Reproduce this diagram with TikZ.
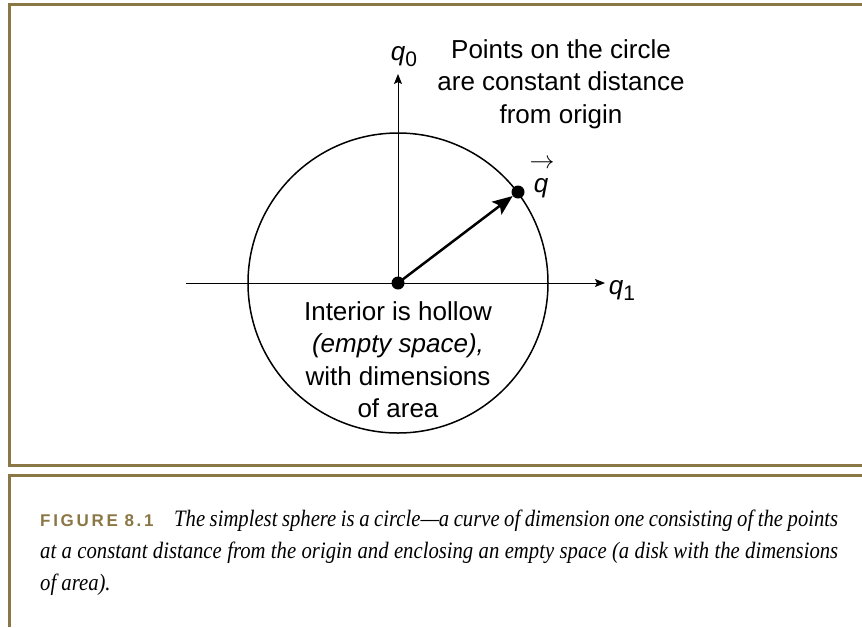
\documentclass[tikz,border=0pt]{standalone}
\usepackage{fontspec}
\setmainfont{Liberation Serif}
\setsansfont{Liberation Sans}
\newfontfamily\capfont{Liberation Serif}[FakeStretch=0.88]
\usetikzlibrary{arrows.meta}
\definecolor{frameol}{HTML}{8B7645}
\begin{document}
\begin{tikzpicture}[x=1pt,y=-1pt,
  frame/.style={draw=frameol,line width=3pt},
  axis/.style={line width=1pt,-{Stealth[length=10pt,width=8pt,inset=2pt]}},
  vecarrow/.style={line width=2.5pt,-{Stealth[length=20pt,width=16pt,inset=4pt]}},
  dot/.style={circle,fill=black,inner sep=0pt,minimum size=13pt},
  lbl/.style={font=\sffamily\fontsize{26}{32.5}\selectfont,align=center,inner sep=0pt},
  axlbl/.style={font=\sffamily\fontsize{26}{30}\selectfont,inner sep=0pt,anchor=base},
  captext/.style={font=\capfont\itshape\fontsize{23.5}{26}\selectfont,inner sep=0pt,anchor=base west}]
\useasboundingbox (0,0) rectangle (862,627);
% frames
\draw[frame] (862,4) -- (9.5,4) -- (9.5,465) -- (862,465);
\draw[frame] (862,475) -- (9.5,475) -- (9.5,627);
% circle and axes
\coordinate (O) at (398,283);
\draw[line width=1.5pt] (O) circle[radius=150];
\coordinate (xl) at (186,283);
\coordinate (xr) at (605,283);
\coordinate (yt) at (398,74);
\draw[line width=1pt] (xl) -- (O);
\draw[axis] (O) -- (xr);
\draw[axis] (O) -- (yt);
\node[dot] (o) at (O) {};
\node[dot] (q) at (518,192) {};
\draw[vecarrow] (o.center) -- (q);
% labels
\node[axlbl] (q0) at (404,60) {\textit{q}\raisebox{-6pt}{\fontsize{21}{21}\selectfont 0}};
\node[axlbl] (q1) at (622,294) {\textit{q}\raisebox{-6pt}{\fontsize{21}{21}\selectfont 1}};
\node[axlbl] (qv) at (541,192) {\textit{q}};
\node[inner sep=0pt,font=\fontsize{24}{24}\selectfont] (qarr) at (542,164) {$\rightarrow$};
\node[lbl,anchor=north] (pts) at (561,39) {Points on the circle\\are constant distance\\from origin};
\node[lbl,anchor=north] (int) at (398,301) {Interior is hollow\\\textit{(empty space),}\\with dimensions\\of area};
% caption
\node[captext] (c1) at (40,526) {\makebox[798pt][s]{{\upshape\sffamily\bfseries\fontsize{17}{18}\selectfont\color{frameol}\addfontfeature{LetterSpace=16}FIGURE 8.1}\hspace{16pt} The simplest sphere is a circle—a curve of dimension one consisting of the points}};
\node[captext] (c2) at (40,558) {\makebox[798pt][s]{at a constant distance from the origin and enclosing an empty space (a disk with the dimensions}};
\node[captext] (c3) at (40,590) {of area).};
\end{tikzpicture}
\end{document}
